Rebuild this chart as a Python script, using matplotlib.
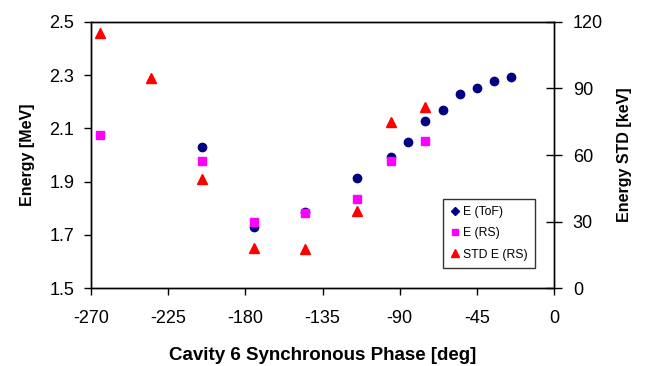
import matplotlib.pyplot as plt
from matplotlib.lines import Line2D

plt.rcParams['font.family'] = ['Liberation Sans', 'DejaVu Sans']
plt.rcParams['axes.unicode_minus'] = False

# E(ToF)
phase_tof = [-205, -175, -145, -115, -95, -85, -75, -65, -55, -45, -35, -25]
e_tof = [2.031, 1.728, 1.787, 1.912, 1.994, 2.049, 2.129, 2.169, 2.229, 2.251, 2.279, 2.294]

# E(RS)
phase_rs = [-265, -205, -175, -145, -115, -95, -75]
e_rs = [2.075, 1.977, 1.747, 1.781, 1.835, 1.977, 2.054]

# STD E(RS) in keV
phase_std = [-265, -235, -205, -175, -145, -115, -95, -75]
std_rs = [115, 94.6, 49.2, 17.9, 17.6, 34.9, 74.7, 81.5]

fig = plt.figure(figsize=(6.46, 3.66), dpi=100)
ax = fig.add_axes([0.1409, 0.2131, 0.7167, 0.7268])
ax2 = ax.twinx()

ax.plot(phase_tof, e_tof, 'o', color='#000080', markersize=6, zorder=3)
ax.plot(phase_rs, e_rs, 's', color='#ff00ff', markersize=6, zorder=4)
ax2.plot(phase_std, std_rs, '^', color='#ff0000', markersize=7, zorder=5)

ax.set_xlim(-270, 0)
ax.set_xticks([-270, -225, -180, -135, -90, -45, 0])
ax.set_ylim(1.5, 2.5)
ax.set_yticks([1.5, 1.7, 1.9, 2.1, 2.3, 2.5])
ax2.set_ylim(0, 120)
ax2.set_yticks([0, 30, 60, 90, 120])

ax.tick_params(axis='both', labelsize=13, direction='out', length=5, width=1)
ax.tick_params(axis='y', pad=7)
ax.tick_params(axis='x', pad=11)
ax2.tick_params(axis='y', labelsize=13, direction='inout', length=11, width=1, pad=8)

for a in (ax, ax2):
    for s in a.spines.values():
        s.set_linewidth(1)

ax.set_xlabel('Cavity 6 Synchronous Phase [deg]', fontsize=13.5, fontweight='bold', labelpad=14)
ax.set_ylabel('Energy [MeV]', fontsize=11.5, fontweight='bold', labelpad=10)
ax2.set_ylabel('Energy STD [keV]', fontsize=11.5, fontweight='bold', labelpad=10)

handles = [
    Line2D([], [], marker='D', color='#000080', linestyle='none', markersize=4),
    Line2D([], [], marker='s', color='#ff00ff', linestyle='none', markersize=5),
    Line2D([], [], marker='^', color='#ff0000', linestyle='none', markersize=6),
]
leg = ax2.legend(handles, ['E (ToF)', 'E (RS)', 'STD E (RS)'], loc='lower right',
                 bbox_to_anchor=(0.966, 0.062), fontsize=8.8, frameon=True, fancybox=False,
                 edgecolor='black', handlelength=0.7, handletextpad=0.3,
                 borderpad=0.6, labelspacing=0.75, borderaxespad=0.3)
leg.get_frame().set_linewidth(1)

fig.savefig('out.png', dpi=100)
